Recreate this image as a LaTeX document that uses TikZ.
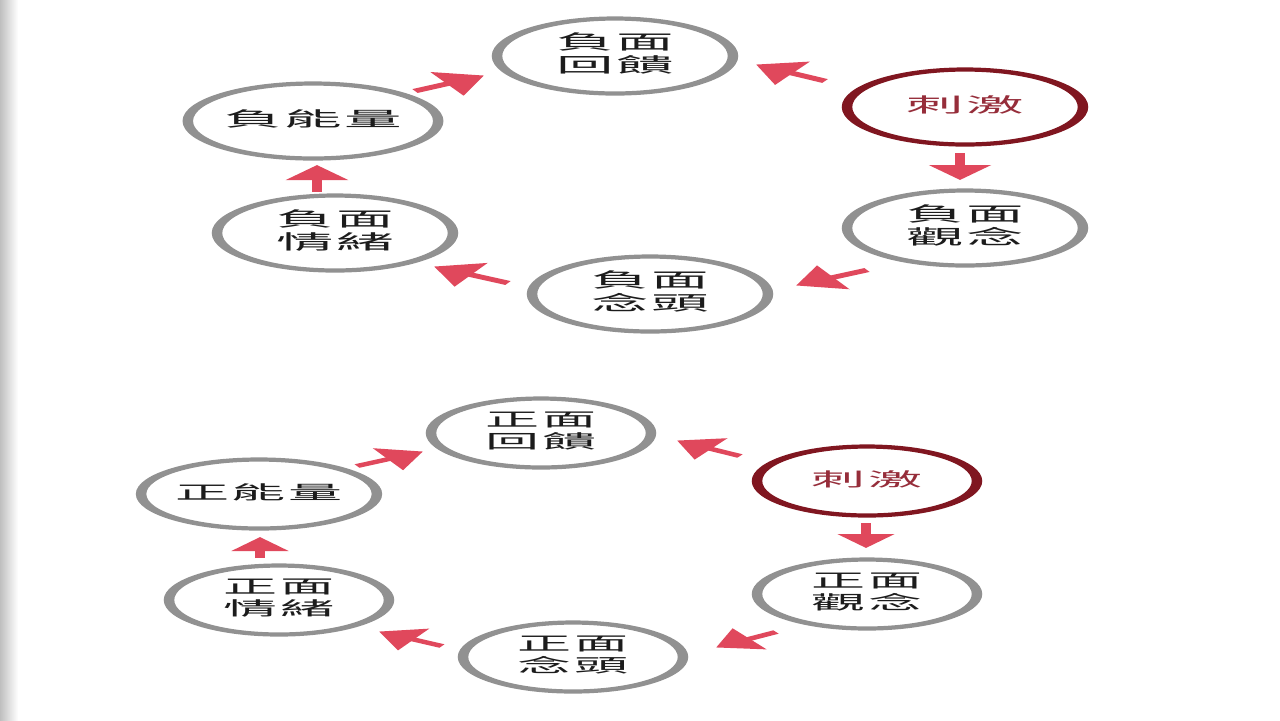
\documentclass[tikz,border=0pt]{standalone}
\usepackage{fontspec}
\usepackage{graphicx}
\newfontfamily\cjk{Noto Sans CJK TC}
\usetikzlibrary{shapes.geometric,arrows.meta}
\definecolor{ringgray}{RGB}{145,145,145}
\definecolor{ringred}{RGB}{128,22,32}
\definecolor{txtred}{RGB}{150,45,58}
\definecolor{arrred}{RGB}{224,72,92}
\definecolor{txtcol}{RGB}{28,28,28}
\newcommand\lbl[1]{\raisebox{-1.7pt}{\scalebox{1.15}[1]{\begin{tabular}{@{}c@{}}#1\end{tabular}}}}
\newcommand\gp{\hspace{0.4pt}}
\begin{document}
\begin{tikzpicture}[x=0.5pt,y=-0.5pt,
  ringbase/.style={ellipse, line width=2.1pt, inner sep=0pt, align=center, text=txtcol},
  ringA/.style={ringbase, draw=ringgray, minimum width=47.2pt, minimum height=37.5pt,
    font=\cjk\fontsize{10}{10}\selectfont},
  ringAred/.style={ringA, draw=ringred, text=txtred},
  ringB/.style={ringbase, draw=ringgray, minimum width=44pt, minimum height=34.5pt,
    font=\cjk\fontsize{9.4}{9.4}\selectfont},
  ringBred/.style={ringB, draw=ringred, text=txtred},
  arr/.style={draw=arrred, line width=2.2pt, -{Triangle[width=13pt,length=8.5pt]}},
  arrv/.style={draw=arrred, line width=2pt, -{Triangle[width=12pt,length=7.5pt]}},
  arrB/.style={draw=arrred, line width=2pt, -{Triangle[width=12pt,length=8pt]}},
  arrBv/.style={draw=arrred, line width=1.9pt, -{Triangle[width=11pt,length=7pt]}}
]
\fill[white] (0,0) rectangle (1280,720);
\shade[left color=black!25, right color=white] (0,0) rectangle (18,720);
\useasboundingbox (0,0) rectangle (1280,720);

\begin{scope}[transform canvas={xscale=2.5}]
% ---- top diagram ----
\node[ringA]    (fbN) at (246,56)    {\lbl{負\gp 面\\回\gp 饋}};
\node[ringAred] (cjN) at (386,107)   {\lbl{刺\gp 激}};
\node[ringA]    (enN) at (125.2,121) {\lbl{負\gp 能\gp 量}};
\node[ringA]    (gnN) at (386,228)   {\lbl{負\gp 面\\觀\gp 念}};
\node[ringA]    (ntN) at (260,294)   {\lbl{負\gp 面\\念\gp 頭}};
\node[ringA]    (qxN) at (134,233)   {\lbl{負\gp 面\\情\gp 緒}};

\coordinate (n1t) at (330,81);    \coordinate (n1h) at (302.4,64.5);
\coordinate (n2t) at (166,91);    \coordinate (n2h) at (193.6,75.5);
\coordinate (n3t) at (384,153);   \coordinate (n3h) at (384,180);
\coordinate (n4t) at (346.8,270); \coordinate (n4h) at (318.4,285.5);
\coordinate (n5t) at (203.2,283); \coordinate (n5h) at (173.6,266.5);
\coordinate (n6t) at (126.8,192); \coordinate (n6h) at (126.8,165);
\draw[arr]  (n1t) -- (n1h);
\draw[arr]  (n2t) -- (n2h);
\draw[arrv] (n3t) -- (n3h);
\draw[arr]  (n4t) -- (n4h);
\draw[arr]  (n5t) -- (n5h);
\draw[arrv] (n6t) -- (n6h);

% ---- bottom diagram ----
\node[ringB]    (fbP) at (216.4,433) {\lbl{正\gp 面\\回\gp 饋}};
\node[ringBred] (cjP) at (346.8,481) {\lbl{刺\gp 激}};
\node[ringB]    (enP) at (103.6,494) {\lbl{正\gp 能\gp 量}};
\node[ringB]    (gnP) at (346.8,594) {\lbl{正\gp 面\\觀\gp 念}};
\node[ringB]    (ntP) at (229.2,657) {\lbl{正\gp 面\\念\gp 頭}};
\node[ringB]    (qxP) at (111.6,600) {\lbl{正\gp 面\\情\gp 緒}};

\coordinate (p1t) at (296,456);   \coordinate (p1h) at (270.8,440.5);
\coordinate (p2t) at (142.8,466); \coordinate (p2h) at (169.2,451.5);
\coordinate (p3t) at (346.4,523); \coordinate (p3h) at (346.4,548);
\coordinate (p4t) at (310.4,632); \coordinate (p4h) at (286.4,647.5);
\coordinate (p5t) at (176.8,646); \coordinate (p5h) at (151.6,631.5);
\coordinate (p6t) at (104,558);   \coordinate (p6h) at (104,537);
\draw[arrB]  (p1t) -- (p1h);
\draw[arrB]  (p2t) -- (p2h);
\draw[arrBv] (p3t) -- (p3h);
\draw[arrB]  (p4t) -- (p4h);
\draw[arrB]  (p5t) -- (p5h);
\draw[arrBv] (p6t) -- (p6h);
\end{scope}
\end{tikzpicture}
\end{document}
